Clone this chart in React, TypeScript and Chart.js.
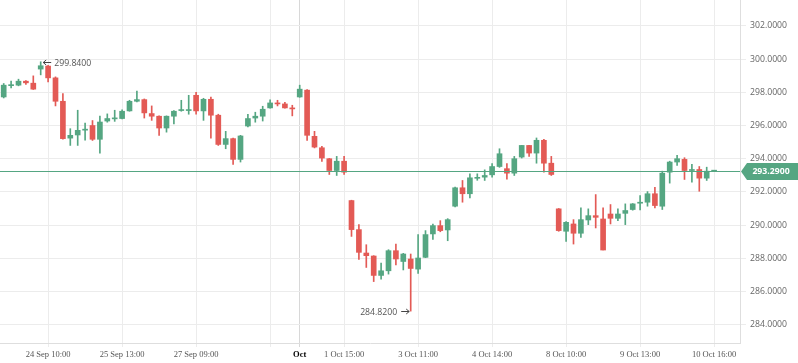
import React, { useEffect, useRef } from 'react';
import { Chart, registerables } from 'chart.js';
Chart.register(...registerables);

// ---- data ----
const SLOTS = 100;
const categories: string[] = Array.from({ length: SLOTS }, (_, i) => String(i));

const tickIndices = [6, 16, 26, 36, 40, 46, 56, 66, 76, 86, 96];
const tickTexts = ['24 Sep 10:00', '25 Sep 13:00', '27 Sep 09:00', '', 'Oct', '1 Oct 15:00', '3 Oct 11:00', '4 Oct 14:00', '8 Oct 10:00', '9 Oct 13:00', '10 Oct 16:00'];
const majorTickIndex = 40;

const yTicks = [284, 286, 288, 290, 292, 294, 296, 298, 300, 302];

const open = [
  297.72, 298.40, 298.43, 298.67, 298.55, 299.40, 299.58, 298.87, 297.46, 295.24,
  295.43, 295.72, 296.00, 295.17, 296.27, 296.40, 296.42, 296.88, 297.46, 297.56,
  296.72, 296.56, 295.85, 296.56, 296.90, 296.90, 297.82, 296.88, 297.58, 296.62,
  294.86, 295.21, 293.96, 295.97, 296.45, 296.56, 297.06, 297.35, 297.30, 297.05,
  297.72, 298.13, 295.35, 294.66, 294.00, 293.29, 293.85, 291.48, 289.73, 288.32,
  288.14, 286.97, 287.25, 288.46, 287.81, 287.96, 287.35, 288.06, 289.47, 289.97,
  289.71, 291.14, 292.25, 291.89, 292.82, 292.89, 293.03, 293.53, 293.40, 293.13,
  294.10, 294.80, 294.34, 295.11, 293.73, 290.98, 289.63, 290.07, 289.51, 290.31,
  290.57, 290.37, 290.67, 290.41, 290.71, 290.94, 291.32, 291.38, 291.89, 291.14,
  293.19, 293.80, 293.96, 293.29, 293.35, 292.83, 293.25,
];
const high = [
  298.53, 298.67, 298.79, 298.71, 298.99, 299.84, 299.62, 298.93, 297.92, 295.81,
  296.92, 296.15, 296.30, 296.57, 296.70, 296.92, 296.95, 297.52, 298.07, 297.60,
  297.18, 296.58, 296.58, 296.90, 297.52, 297.82, 298.00, 297.64, 297.72, 296.68,
  295.65, 295.25, 295.41, 296.68, 296.80, 297.16, 297.54, 297.52, 297.40, 297.22,
  298.43, 298.17, 295.65, 294.74, 294.02, 294.14, 294.14, 291.50, 290.03, 288.82,
  288.16, 287.72, 288.52, 288.86, 288.30, 288.26, 289.43, 289.67, 290.07, 290.27,
  290.39, 292.29, 292.69, 293.09, 293.09, 293.33, 293.70, 294.60, 293.70, 294.14,
  294.80, 294.80, 295.25, 295.17, 294.14, 291.00, 290.21, 290.33, 291.04, 290.98,
  291.84, 291.04, 291.24, 290.98, 291.28, 291.30, 291.78, 292.02, 292.28, 293.25,
  293.85, 294.20, 294.06, 293.66, 293.53, 293.49, 293.30,
];
const low = [
  297.66, 298.27, 298.39, 298.47, 298.17, 299.05, 298.63, 297.18, 295.17, 294.80,
  294.80, 295.11, 295.10, 294.34, 296.20, 296.25, 296.40, 296.86, 297.42, 296.45,
  296.31, 295.41, 295.60, 296.10, 296.86, 296.68, 296.68, 296.31, 295.24, 294.80,
  294.60, 293.66, 293.80, 295.91, 296.20, 296.27, 297.04, 297.18, 297.04, 296.58,
  297.70, 295.10, 294.65, 293.84, 293.05, 292.99, 293.05, 289.32, 287.93, 287.45,
  286.60, 286.75, 287.05, 287.61, 287.30, 284.82, 287.09, 288.04, 289.14, 289.60,
  289.06, 291.10, 291.38, 291.64, 292.70, 292.69, 292.89, 293.48, 292.77, 292.99,
  294.04, 294.14, 293.73, 293.19, 292.99, 289.63, 289.02, 288.86, 289.26, 290.03,
  289.83, 288.50, 290.07, 290.27, 290.03, 290.90, 290.92, 291.14, 291.04, 290.94,
  292.53, 293.60, 292.75, 292.59, 292.04, 292.69, 293.24,
];
const close = [
  298.43, 298.45, 298.67, 298.57, 298.19, 299.60, 298.87, 297.46, 295.21, 295.41,
  295.71, 295.77, 295.17, 296.21, 296.42, 296.45, 296.86, 297.46, 297.56, 296.76,
  296.56, 295.85, 296.56, 296.86, 296.94, 296.95, 296.88, 297.58, 296.62, 294.86,
  295.21, 293.96, 295.37, 296.42, 296.56, 296.98, 297.36, 297.30, 297.06, 297.00,
  298.19, 295.41, 294.70, 294.04, 293.29, 293.85, 293.19, 289.73, 288.36, 288.16,
  286.97, 287.25, 288.46, 287.96, 288.26, 287.39, 288.02, 289.43, 289.97, 289.67,
  290.33, 292.25, 291.89, 292.85, 292.87, 292.99, 293.53, 294.30, 293.13, 294.00,
  294.80, 294.34, 295.11, 293.73, 293.05, 289.67, 290.17, 289.51, 290.33, 290.57,
  290.47, 288.50, 290.41, 290.67, 290.88, 291.28, 291.36, 291.89, 291.18, 293.13,
  293.80, 294.00, 293.29, 293.35, 292.83, 293.25, 293.29,
];

const UP = '#55a682';
const DOWN = '#e35a55';
const SANS = '"Open Sans", "Noto Sans", sans-serif';
const SERIF = '"Liberation Serif", "DejaVu Serif", serif';

export default function App() {
  const ref = useRef<HTMLCanvasElement>(null);

  useEffect(() => {
    if (!ref.current) return;
    const colors = open.map((o, i) => (close[i] >= o ? UP : DOWN));
    const labelMap: Record<number, string> = {};
    tickIndices.forEach((ix, k) => (labelMap[ix] = tickTexts[k]));

    const overlay = {
      id: 'overlay',
      afterDatasetsDraw(chart: any) {
        const { ctx, chartArea } = chart;
        const xs = chart.scales.x;
        const ys = chart.scales.y;
        ctx.save();
        // max annotation
        let maxI = 0;
        high.forEach((h, i) => { if (h > high[maxI]) maxI = i; });
        let minI = 0;
        low.forEach((l, i) => { if (l < low[minI]) minI = i; });
        ctx.font = `8.7px ${SANS}`;
        ctx.fillStyle = '#555';
        ctx.strokeStyle = '#444';
        ctx.lineWidth = 1;
        {
          const x = xs.getPixelForValue(maxI) + 2.5;
          const y = Math.round(ys.getPixelForValue(high[maxI])) + 0.5;
          ctx.beginPath();
          ctx.moveTo(x, y); ctx.lineTo(x + 8, y);
          ctx.moveTo(x + 3, y - 2.5); ctx.lineTo(x, y); ctx.lineTo(x + 3, y + 2.5);
          ctx.stroke();
          ctx.textAlign = 'left';
          ctx.textBaseline = 'middle';
          ctx.fillText(high[maxI].toFixed(4), x + 11, y + 1);
        }
        {
          const x = xs.getPixelForValue(minI) - 1.5;
          const y = Math.round(ys.getPixelForValue(low[minI])) + 0.5;
          ctx.beginPath();
          ctx.moveTo(x - 8, y); ctx.lineTo(x, y);
          ctx.moveTo(x - 3, y - 2.5); ctx.lineTo(x, y); ctx.lineTo(x - 3, y + 2.5);
          ctx.stroke();
          ctx.textAlign = 'right';
          ctx.textBaseline = 'middle';
          ctx.fillText(low[minI].toFixed(4), x - 12, y + 1);
        }
        // last price line + tag
        const last = close[close.length - 1];
        const py = Math.round(ys.getPixelForValue(last)) + 0.5;
        ctx.strokeStyle = UP;
        ctx.beginPath();
        ctx.moveTo(chartArea.left, py);
        ctx.lineTo(chartArea.right, py);
        ctx.stroke();
        const tx = chartArea.right + 1;
        ctx.fillStyle = UP;
        ctx.beginPath();
        ctx.moveTo(tx, py);
        ctx.lineTo(tx + 6, py - 8.5);
        ctx.lineTo(chart.width, py - 8.5);
        ctx.lineTo(chart.width, py + 8.5);
        ctx.lineTo(tx + 6, py + 8.5);
        ctx.closePath();
        ctx.fill();
        ctx.fillStyle = '#fff';
        ctx.font = `bold 8.7px ${SANS}`;
        ctx.textAlign = 'center';
        ctx.textBaseline = 'middle';
        ctx.fillText(last.toFixed(4), tx + 30, py + 0.5);
        ctx.restore();
      },
    };

    const chart = new Chart(ref.current, {
      type: 'bar',
      data: {
        labels: categories,
        datasets: [
          {
            data: open.map((o, i) => [o, close[i]]) as any,
            backgroundColor: colors,
            barThickness: 5,
            minBarLength: 1,
            grouped: false,
          } as any,
          {
            data: low.map((l, i) => [l, high[i]]) as any,
            backgroundColor: colors,
            barThickness: 1,
            grouped: false,
          } as any,
        ],
      },
      options: {
        animation: false,
        responsive: false,
        devicePixelRatio: 1,
        events: [],
        layout: { padding: 0 },
        plugins: { legend: { display: false }, tooltip: { enabled: false } },
        scales: {
          x: {
            type: 'category',
            offset: true,
            grid: {
              offset: false,
              tickLength: 4,
              color: (c: any) =>
                c.index === majorTickIndex ? '#d8d8d8' : labelMap[c.index] !== undefined ? '#ececec' : 'rgba(0,0,0,0)',
            },
            border: { color: '#dedede' },
            ticks: {
              autoSkip: false,
              maxRotation: 0,
              minRotation: 0,
              padding: 3,
              callback: (_v: any, i: number) => labelMap[i] ?? '',
              color: (c: any) => (c.index === majorTickIndex ? '#000' : '#555'),
              font: (c: any) => ({ family: SERIF, size: 8.5, weight: c.index === majorTickIndex ? 'bold' : 'normal' }),
            },
            afterFit: (s: any) => {
              s.height = 20;
              s.paddingLeft = 0;
              s.paddingRight = 0;
            },
          } as any,
          y: {
            type: 'linear',
            position: 'right',
            min: 282.9,
            max: 303.56,
            afterBuildTicks: (s: any) => {
              s.ticks = yTicks.map((v) => ({ value: v }));
            },
            grid: { color: '#ececec', tickLength: 6 },
            border: { color: '#dedede' },
            ticks: {
              padding: 4,
              color: '#666',
              font: { family: SANS, size: 8.7 },
              callback: (v: any) => Number(v).toFixed(4),
            },
            afterFit: (s: any) => {
              s.width = 58;
              s.paddingTop = 0;
              s.paddingBottom = 0;
            },
          } as any,
        },
      },
      plugins: [overlay],
    });
    return () => chart.destroy();
  }, []);

  return (
    <div style={{ position: 'absolute', left: 0, top: 0, width: 798, height: 363, background: '#fff' }}>
      <canvas ref={ref} width={798} height={363} style={{ display: 'block' }} />
    </div>
  );
}
